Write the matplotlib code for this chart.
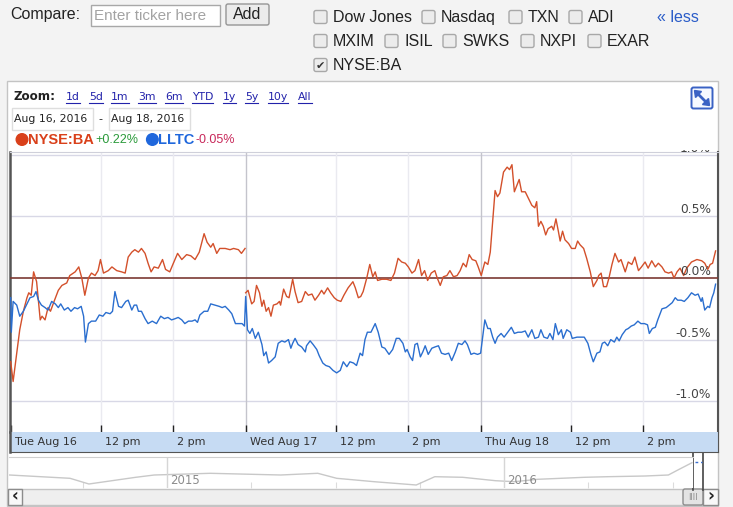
import numpy as np
import matplotlib.pyplot as plt
from matplotlib.patches import Rectangle, FancyBboxPatch, Circle, Polygon
from matplotlib.transforms import offset_copy, blended_transform_factory

# time axis: trading minutes since Tue Aug 16 09:30 (390 minutes per session)
ba_min = np.array([
    0, 4, 10, 15, 21, 27, 30, 34, 38, 43, 49, 52, 57, 62, 66, 72, 79, 85, 93, 98,
    107, 113, 118, 123, 129, 134, 140, 145, 149, 154, 162, 168, 176, 184, 190, 195, 201, 206, 212, 217,
    223, 228, 233, 238, 245, 252, 257, 264, 270, 277, 284, 292, 299, 306, 313, 321, 326, 332, 336, 342,
    347, 356, 364, 370, 378, 383, 389,
    390, 394, 400, 404, 408, 413, 417, 420, 424, 428, 432, 436, 442, 446, 448, 453, 458, 462, 468, 472,
    477, 483, 489, 494, 500, 505, 511, 516, 520, 526, 531, 537, 542, 548, 553, 560, 568, 572, 577, 581,
    585, 591, 596, 601, 605, 609, 616, 624, 631, 637, 643, 649, 655, 660, 666, 671, 677, 682, 687, 692,
    698, 704, 708, 713, 718, 724, 729, 735, 741, 746, 751, 756, 761, 766, 772, 776, 781,
    787, 792, 796, 800, 804, 808, 812, 818, 824, 828, 832, 836, 840, 844, 848, 854, 859, 865, 870, 873,
    876, 880, 884, 888, 892, 898, 901, 905, 909, 912, 916, 920, 926, 931, 937, 941, 945, 951, 956, 962,
    967, 973, 976, 980, 984, 989, 993, 998, 1003, 1009, 1013, 1020, 1025, 1031, 1036, 1042, 1047, 1053, 1058, 1064,
    1070, 1075, 1081, 1086, 1092, 1097, 1101, 1106, 1111, 1117, 1122, 1130, 1139, 1147, 1152, 1157, 1161, 1165, 1170])
ba_pct = np.array([
    -0.68, -0.84, -0.61, -0.42, -0.27, -0.16, -0.12, -0.14, 0.05, -0.03, -0.34, -0.31, -0.34, -0.24, -0.27, -0.19, -0.10, -0.06, -0.04, 0.02,
    0.05, 0.09, 0.00, -0.14, 0.00, 0.04, 0.02, 0.06, 0.15, 0.04, 0.06, 0.09, 0.06, 0.05, 0.04, 0.17, 0.21, 0.23, 0.21, 0.24,
    0.20, 0.12, 0.05, 0.09, 0.08, 0.15, 0.07, 0.05, 0.12, 0.20, 0.15, 0.19, 0.18, 0.15, 0.21, 0.36, 0.29, 0.25, 0.28, 0.20,
    0.24, 0.24, 0.23, 0.24, 0.23, 0.20, 0.24,
    -0.12, -0.10, -0.21, -0.19, -0.06, -0.12, -0.23, -0.18, -0.27, -0.24, -0.31, -0.22, -0.21, -0.19, -0.22, -0.09, -0.15, -0.16, -0.01, -0.11,
    -0.20, -0.19, -0.11, -0.14, -0.13, -0.18, -0.14, -0.10, -0.13, -0.08, -0.12, -0.16, -0.18, -0.19, -0.14, -0.08, -0.03, -0.08, -0.16, -0.15,
    -0.11, 0.00, 0.11, 0.01, 0.05, -0.02, -0.01, -0.01, -0.02, 0.04, 0.16, 0.13, 0.12, 0.09, 0.04, 0.06, 0.15, 0.02, 0.06, -0.02,
    0.04, 0.06, 0.00, -0.06, 0.01, 0.02, 0.06, 0.01, 0.02, 0.06, 0.12, 0.09, 0.19, 0.15, 0.14, 0.09, 0.02,
    0.13, 0.11, 0.21, 0.46, 0.71, 0.66, 0.69, 0.86, 0.90, 0.88, 0.92, 0.70, 0.75, 0.80, 0.70, 0.70, 0.65, 0.59, 0.57, 0.62,
    0.42, 0.46, 0.42, 0.35, 0.40, 0.42, 0.39, 0.48, 0.38, 0.30, 0.38, 0.31, 0.28, 0.24, 0.24, 0.30, 0.27, 0.24, 0.16, 0.05,
    -0.07, -0.02, 0.02, 0.04, -0.07, -0.07, 0.00, 0.11, 0.20, 0.13, 0.15, 0.05, 0.13, 0.11, 0.17, 0.06, 0.09, 0.13, 0.08, 0.14,
    0.09, 0.12, 0.09, 0.05, 0.04, 0.05, 0.00, 0.05, 0.08, 0.02, 0.08, 0.13, 0.15, 0.14, 0.12, 0.07, 0.11, 0.12, 0.22])

lltc_min = np.array([
    0, 1, 4, 10, 15, 21, 27, 32, 38, 42, 46, 51, 57, 62, 68, 74, 79, 83, 89, 95,
    100, 106, 111, 117, 121, 124, 129, 134, 141, 147, 153, 158, 165, 169, 173, 179, 184, 191, 195, 201,
    205, 209, 212, 217, 223, 228, 235, 242, 249, 255, 261, 267, 273, 278, 284, 289, 295, 301, 306, 310,
    314, 321, 327, 332, 339, 346, 351, 356, 362, 367, 373, 379, 384, 388,
    390, 393, 397, 401, 406, 411, 417, 420, 424, 428, 433, 439, 444, 450, 455, 461, 465, 468, 472, 477,
    483, 489, 491, 497, 502, 508, 512, 518, 523, 529, 535, 541, 547, 552, 558, 563, 569, 574, 580, 584,
    588, 592, 598, 605, 610, 616, 621, 628, 634, 640, 645, 651, 655, 658, 663, 667, 671, 675, 680, 684,
    688, 693, 699, 704, 710, 715, 721, 727, 732, 738, 743, 749, 754, 758, 764, 769, 775, 780,
    787, 792, 796, 800, 804, 808, 814, 819, 825, 831, 836, 842, 848, 854, 859, 865, 870, 876, 880, 885,
    891, 895, 900, 904, 909, 914, 917, 923, 929, 932, 940, 947, 952, 958, 963, 967, 973, 978, 982, 986,
    991, 996, 1002, 1006, 1010, 1015, 1021, 1025, 1030, 1035, 1041, 1046, 1052, 1057, 1060, 1065, 1070, 1074, 1081, 1088,
    1093, 1098, 1103, 1107, 1113, 1118, 1124, 1130, 1136, 1141, 1146, 1148, 1152, 1157, 1160, 1164, 1167, 1170])
lltc_pct = np.array([
    -0.16, -0.44, -0.19, -0.22, -0.31, -0.27, -0.21, -0.16, -0.15, -0.11, -0.18, -0.22, -0.24, -0.26, -0.19, -0.21, -0.24, -0.21, -0.26, -0.24,
    -0.27, -0.24, -0.25, -0.23, -0.31, -0.52, -0.37, -0.35, -0.35, -0.30, -0.31, -0.28, -0.29, -0.27, -0.11, -0.23, -0.24, -0.19, -0.18, -0.26,
    -0.22, -0.22, -0.27, -0.27, -0.33, -0.37, -0.35, -0.37, -0.31, -0.33, -0.32, -0.34, -0.33, -0.32, -0.34, -0.37, -0.35, -0.35, -0.34, -0.36,
    -0.30, -0.27, -0.27, -0.21, -0.22, -0.23, -0.24, -0.23, -0.26, -0.29, -0.37, -0.37, -0.37, -0.39,
    -0.15, -0.42, -0.45, -0.41, -0.49, -0.44, -0.54, -0.63, -0.60, -0.69, -0.67, -0.64, -0.53, -0.51, -0.52, -0.50, -0.57, -0.53, -0.49, -0.54,
    -0.56, -0.60, -0.55, -0.51, -0.54, -0.58, -0.63, -0.69, -0.71, -0.72, -0.75, -0.77, -0.75, -0.68, -0.72, -0.68, -0.69, -0.71, -0.61, -0.63,
    -0.50, -0.44, -0.44, -0.37, -0.44, -0.56, -0.57, -0.62, -0.58, -0.49, -0.49, -0.53, -0.60, -0.58, -0.64, -0.67, -0.54, -0.53, -0.64, -0.60,
    -0.55, -0.62, -0.57, -0.56, -0.55, -0.61, -0.62, -0.61, -0.67, -0.60, -0.53, -0.54, -0.51, -0.54, -0.62, -0.61, -0.62, -0.61,
    -0.34, -0.41, -0.41, -0.48, -0.53, -0.48, -0.45, -0.48, -0.44, -0.40, -0.45, -0.44, -0.44, -0.43, -0.48, -0.42, -0.49, -0.48, -0.42, -0.48,
    -0.49, -0.45, -0.50, -0.37, -0.46, -0.42, -0.49, -0.42, -0.44, -0.49, -0.48, -0.48, -0.48, -0.53, -0.62, -0.68, -0.61, -0.60, -0.53, -0.52,
    -0.55, -0.50, -0.52, -0.48, -0.51, -0.46, -0.42, -0.41, -0.39, -0.38, -0.35, -0.37, -0.37, -0.38, -0.45, -0.41, -0.40, -0.34, -0.25, -0.24,
    -0.22, -0.20, -0.16, -0.18, -0.18, -0.19, -0.16, -0.12, -0.14, -0.13, -0.19, -0.16, -0.26, -0.23, -0.24, -0.16, -0.12, -0.05])

tick_min = [0, 150, 270, 390, 540, 660, 780, 930, 1050]
tick_lab = ['Tue Aug 16', '12 pm', '2 pm', 'Wed Aug 17', '12 pm', '2 pm', 'Thu Aug 18', '12 pm', '2 pm']
day_start = [390, 780]
y_levels = [1.0, 0.5, 0.0, -0.5, -1.0]
y_labels = ['1.0%', '0.5%', '0.0%', '-0.5%', '-1.0%']

# navigator sparkline (long-term history, relative level)
nav_year = [2014.532, 2014.712, 2014.768, 2014.851, 2014.907, 2014.962, 2015.128, 2015.337, 2015.447, 2015.503,
            2015.614, 2015.739, 2015.794, 2015.877, 2015.974, 2016.030, 2016.099, 2016.238, 2016.307, 2016.418,
            2016.487, 2016.515, 2016.557]
nav_level = [13.0, 9.7, 4.0, 8.0, 10.7, 13.0, 14.7, 13.0, 14.7, 9.7,
             6.3, 3.0, 11.3, 10.7, 7.3, 6.3, 8.7, 10.7, 11.3, 12.0,
             13.0, 18.0, 25.3]
nav_years = [2015, 2016]
nav_quarters = [2014.75, 2015.25, 2015.5, 2015.75, 2016.25, 2016.5]

cb_labels = ['Dow Jones', 'Nasdaq', 'TXN', 'ADI', 'MXIM', 'ISIL', 'SWKS', 'NXPI', 'EXAR', 'NYSE:BA']
cb_checked = [False] * 9 + [True]
zoom_links = ['1d', '5d', '1m', '3m', '6m', 'YTD', '1y', '5y', '10y', 'All']

# layout (pixels)
cb_x = [314, 422, 509, 569, 314, 385, 443, 521, 588, 314]
cb_y = [17, 17, 17, 17, 41, 41, 41, 41, 41, 65]
link_x = [66, 89, 111, 138, 165, 192, 223, 245, 268, 298]

RED, BLUE = '#d3502b', '#2a6ecf'
UI = 'Liberation Sans'

W, H = 733, 507
fig = plt.figure(figsize=(W / 100, H / 100), dpi=100)
fig.patch.set_facecolor('#f3f3f3')
bg = fig.add_axes([0, 0, 1, 1])
bg.set_xlim(0, W)
bg.set_ylim(H, 0)
bg.axis('off')


def px_axes(x0, y0, x1, y1):
    return fig.add_axes([x0 / W, 1 - y1 / H, (x1 - x0) / W, (y1 - y0) / H])


rend = fig.canvas.get_renderer()


def right_edge(t):
    bb = t.get_window_extent(rend)
    return bb.x1


# header controls
bg.text(10, 15, 'Compare:', family=UI, fontsize=11.5, va='center', color='#222')
bg.add_patch(Rectangle((91, 5), 129, 21, fc='white', ec='#a8a8a8', lw=1))
bg.text(94, 15.5, 'Enter ticker here', family=UI, fontsize=11, va='center', color='#a3a3a3')
bg.add_patch(FancyBboxPatch((226, 4), 43, 21, boxstyle='round,pad=0,rounding_size=2',
                            fc='#ebebeb', ec='#959595', lw=1))
bg.text(247.5, 14.5, 'Add', family=UI, fontsize=11.5, ha='center', va='center', color='#222')

for lab, x, y, chk in zip(cb_labels, cb_x, cb_y, cb_checked):
    bg.add_patch(FancyBboxPatch((x, y - 6.5), 13, 13, boxstyle='round,pad=0,rounding_size=2',
                                fc='#ececec', ec='#a8a8a8', lw=1))
    if chk:
        bg.text(x + 6.5, y + 0.5, '\u2714', fontsize=8, ha='center', va='center', color='#333')
    bg.text(x + 19, y + 0.5, lab, family=UI, fontsize=11.5, va='center', color='#222')
bg.text(657, 17.5, '\u00ab less', family=UI, fontsize=11.5, va='center', color='#2a5cc8')

# chart frame
bg.add_patch(Rectangle((7, 80.5), 711, 425, fc='white', ec='#c4c4c4', lw=1))

bg.text(14, 96.5, 'Zoom:', fontsize=8.6, weight='bold', va='center', color='#222')
for lab, x in zip(zoom_links, link_x):
    t = bg.text(x, 96.5, lab, fontsize=7.8, va='center', color='#2222aa')
    x1 = right_edge(t)
    bg.plot([x, x1], [102.5, 102.5], color='#2222aa', lw=0.8)

bg.add_patch(Rectangle((11.5, 108), 81, 22, fc='white', ec='#dedede', lw=1))
bg.text(14, 119, 'Aug 16, 2016', fontsize=7.8, va='center', color='#222')
bg.text(100.5, 119, '-', fontsize=8, ha='center', va='center', color='#222')
bg.add_patch(Rectangle((108.5, 108), 81, 22, fc='white', ec='#dedede', lw=1))
bg.text(111, 119, 'Aug 18, 2016', fontsize=7.8, va='center', color='#222')

# legend row
bg.add_patch(Circle((22, 139.5), 5.8, color='#d9401a'))
t = bg.text(28, 139.5, 'NYSE:BA', family=UI, fontsize=10.5, weight='bold', va='center', color='#d9401a')
t = bg.text(right_edge(t) + 1.5, 140, '+0.22%', family=UI, fontsize=9, va='center', color='#2a9a3a')
xb = right_edge(t) + 14
bg.add_patch(Circle((xb, 139.5), 5.8, color='#1f67dc'))
t = bg.text(xb + 6, 139.5, 'LLTC', family=UI, fontsize=10.5, weight='bold', va='center', color='#1f67dc')
bg.text(right_edge(t) + 1, 140, '-0.05%', family=UI, fontsize=9, va='center', color='#c8285a')

# expand icon
ICON = '#3a62c4'
bg.add_patch(FancyBboxPatch((691.5, 87.5), 21, 21, boxstyle='round,pad=0,rounding_size=2',
                            fc='#f6f9ff', ec=ICON, lw=1.4))
bg.plot([697, 707], [93, 103], color=ICON, lw=2, solid_capstyle='butt')
bg.add_patch(Polygon([(694.5, 90.5), (701.5, 91.5), (695.5, 97.5)], closed=True, color=ICON))
bg.add_patch(Polygon([(709.5, 105.5), (702.5, 104.5), (708.5, 98.5)], closed=True, color=ICON))

# main plot
ax = px_axes(9.5, 151.5, 718, 432)
ax.set_xlim(-2, 1174)
ax.set_ylim(-1.25, 1.027)
for v in y_levels:
    if v == 0:
        ax.axhline(v, color='#7c3a33', lw=1.2, zorder=3)
    else:
        ax.axhline(v, color='#d8d8e6', lw=1, zorder=1)
for t_ in tick_min[1:]:
    ax.axvline(t_, color='#c4c4cc' if t_ in day_start else '#eaeaf0', lw=1, zorder=1)

tue = ba_min < 390
ax.plot(ba_min[tue], ba_pct[tue], color=RED, lw=1, zorder=4)
ax.plot(ba_min[~tue], ba_pct[~tue], color=RED, lw=1, zorder=4)
ax.plot(lltc_min, lltc_pct, color=BLUE, lw=1, zorder=4)

# value labels sit just above their gridlines; the top one is cut by the frame
label_clip = Rectangle((9.5, 432), 708.5, -282.5, transform=bg.transData)
ylab_tr = offset_copy(blended_transform_factory(ax.transAxes, ax.transData), fig, x=-7, y=6.5, units='dots')
for v, lab in zip(y_levels, y_labels):
    yt = ax.text(1, v, lab, transform=ylab_tr, ha='right', va='center', fontsize=8.8,
                 color='#444', zorder=5, clip_on=True)
    yt.set_clip_path(label_clip)

ax.set_xticks(tick_min)
ax.set_yticks([])
ax.tick_params(axis='x', direction='in', length=5, width=1, color='#222', labelbottom=False)
ax.spines['bottom'].set_visible(False)
ax.spines['top'].set_color('#cfd0da')
ax.spines['left'].set_color('#555')
ax.spines['left'].set_linewidth(1.8)
ax.spines['right'].set_color('#555')
ax.spines['right'].set_linewidth(1.5)

# time band under the plot
band = px_axes(9.5, 432, 718, 452)
band.set_facecolor('#c6dbf3')
band.set_xlim(ax.get_xlim())
band.set_ylim(0, 1)
band.set_xticks([])
band.set_yticks([])
band.spines['top'].set_visible(False)
for s in ['left', 'right', 'bottom']:
    band.spines[s].set_color('#555')
band.spines['left'].set_linewidth(1.8)
lab_tr = offset_copy(band.transData, fig, x=4, y=0, units='dots')
for t_, lab in zip(tick_min, tick_lab):
    band.text(t_, 0.5, lab, transform=lab_tr, fontsize=8, va='center', color='#333')

# navigator
nav = px_axes(9, 457, 693, 488)
nav.plot(nav_year, nav_level, color='#c8c8c8', lw=1)
nav.set_xlim(2014.531, 2016.56)
nav.set_ylim(0, 31)
for yr in nav_years:
    nav.axvline(yr, color='#d6d6d6', lw=1)
    nav.text(yr, 8, str(yr), transform=offset_copy(nav.transData, fig, x=3, y=0, units='dots'),
             fontsize=8.5, va='center', color='#8c8c8c')
nav.set_xticks(nav_quarters)
nav.set_yticks([])
nav.tick_params(axis='x', direction='in', length=4, color='#dcdcdc', labelbottom=False)
for s in ['left', 'right', 'bottom']:
    nav.spines[s].set_visible(False)
nav.spines['top'].set_color('#d0d0d0')

# selection handle and scrollbar
bg.plot([693, 693], [452, 490], color='#444', lw=1.2)
bg.plot([703, 703], [452, 490], color='#444', lw=1.2)
bg.plot([695, 702], [462, 462], color='#3a6fd0', lw=1, ls=(0, (2, 2)))
bg.add_patch(Rectangle((8, 489), 710, 16, fc='#efefef', ec='#c4c4c4', lw=1))
bg.add_patch(Rectangle((8, 489), 14, 16, fc='#f8f8f8', ec='#8c8c8c', lw=1))
bg.text(15, 496.5, '\u2039', fontsize=12, weight='bold', ha='center', va='center', color='#222')
bg.add_patch(FancyBboxPatch((683, 489), 20, 16, boxstyle='round,pad=0,rounding_size=2',
                            fc='#e3e3e3', ec='#8c8c8c', lw=1))
bg.text(693, 497, '||||', fontsize=5, ha='center', va='center', color='#777')
bg.add_patch(Rectangle((703, 489), 15, 16, fc='#f8f8f8', ec='#8c8c8c', lw=1))
bg.text(710.5, 496.5, '\u203a', fontsize=12, weight='bold', ha='center', va='center', color='#222')

fig.savefig('out.png', dpi=100, facecolor=fig.get_facecolor())
